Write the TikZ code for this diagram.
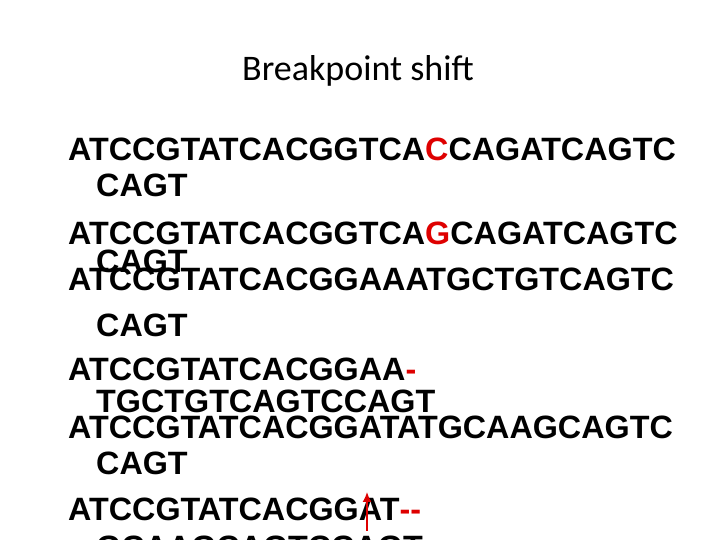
\documentclass[tikz,border=0pt]{standalone}
\usepackage{fontspec}
\usetikzlibrary{arrows.meta}
\setmainfont{Liberation Sans}
\newfontfamily\titlefont{Carlito}
\definecolor{myred}{RGB}{222,0,0}
\begin{document}
\begin{tikzpicture}[x=1pt,y=1pt,
  seq/.style={anchor=base west,inner sep=0pt,font=\fontsize{32.3}{34}\selectfont\bfseries}]
\useasboundingbox (0,0) rectangle (720,540);
\clip (0,0) rectangle (720,540);
\node[font=\titlefont\fontsize{36}{40}\selectfont] (title) at (358,469) {Breakpoint shift};
\node[seq] (l1) at (68,540-161) {ATCCGTATCACGGTCA\textcolor{myred}{C}CAGATCAGTC};
\node[seq] (l1b) at (96,540-197) {CAGT};
\node[seq] (l2) at (68,540-245) {ATCCGTATCACGGTCA\textcolor{myred}{G}CAGATCAGTC};
\node[seq] (l2b) at (96,540-273) {CAGT};
\node[seq] (l3) at (68,540-291) {ATCCGTATCACGGAAATGCTGTCAGTC};
\node[seq] (l3b) at (96,540-337) {CAGT};
\node[seq] (l4) at (68,540-381) {ATCCGTATCACGGAA\textcolor{myred}{-}};
\node[seq] (l4b) at (96,540-413) {TGCTGTCAGTCCAGT};
\node[seq] (l5) at (68,540-439) {ATCCGTATCACGGATATGCAAGCAGTC};
\node[seq] (l5b) at (96,540-475) {CAGT};
\node[seq] (l6) at (68,540-521) {ATCCGTATCACGGAT\textcolor{myred}{{-}{-}}};
\node[seq] (l6b) at (96,540-559) {GCAAGCAGTCCAGT};
\coordinate (ab) at (367,540-531);
\coordinate (at) at (367,540-492);
\draw[myred,line width=1.6pt,-{Latex[length=10pt,width=9pt]}] (ab) -- (at);
\end{tikzpicture}
\end{document}
